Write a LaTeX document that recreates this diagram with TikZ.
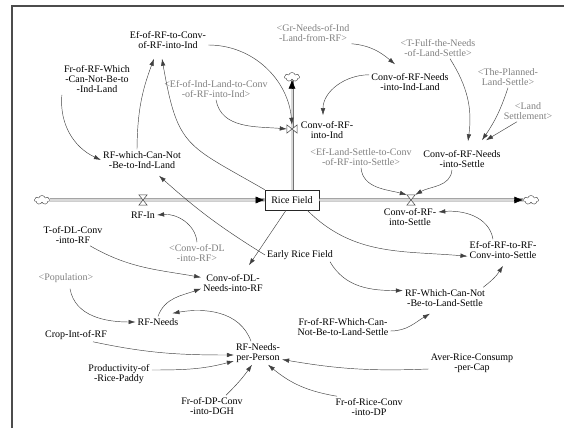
\documentclass[tikz,border=0pt]{standalone}
\usepackage{fontspec}
\setmainfont{Liberation Serif}
\usetikzlibrary{arrows.meta,shapes.symbols}
\begin{document}
\begin{tikzpicture}[x=1pt, y=1pt,
	var/.style={align=center, inner sep=2pt, font=\fontsize{10}{10}\selectfont},
	shadowvar/.style={var, text=black!50},
	link/.style={draw=black!75, line width=.45pt, -{Latex[length=7pt,width=4.5pt]}},
	pipe/.style={draw=black!55, double=black!15, double distance=1.6pt, line width=.7pt},
	pipetip/.style={line width=.5pt, -{Latex[length=9pt,width=7pt]}},
	stock/.style={var, draw=black!85, fill=white, line width=.6pt, minimum width=54pt, minimum height=20pt},
	cloudy/.style={cloud, cloud puffs=7, cloud ignores aspect, draw=black!75, fill=white, minimum width=15pt, minimum height=9pt, inner sep=0pt},
	valveh/.style={minimum width=8pt, minimum height=10pt, inner sep=0pt,
		append after command={\pgfextra{\filldraw[black!75, fill=white, line width=.5pt] (\tikzlastnode.north west) -- (\tikzlastnode.north east) -- (\tikzlastnode.south west) -- (\tikzlastnode.south east) -- cycle;}}},
	valvev/.style={minimum width=10pt, minimum height=8pt, inner sep=0pt,
		append after command={\pgfextra{\filldraw[black!75, fill=white, line width=.5pt] (\tikzlastnode.north west) -- (\tikzlastnode.south west) -- (\tikzlastnode.north east) -- (\tikzlastnode.south east) -- cycle;}}}]
	\useasboundingbox (0,0) rectangle (564,428);
	\draw [black!70, line width=1.6pt] (12,0) -- (12,422) -- (564,422);
	\path (42,228) node(cloudleft)[cloudy]{}
	(531,228) node(cloudright)[cloudy]{}
	(292,351) node(cloudtop)[cloudy]{}
	(292,228) node(rice)[stock]{Rice Field};
	\draw [pipe] (cloudleft) -- (rice);
	\draw [pipe] (rice) -- (cloudright);
	\draw [pipe] (rice) -- (cloudtop);
	\draw [pipetip] ([xshift=-9pt]rice.west) -- (rice.west);
	\draw [pipetip] ([xshift=-9pt]cloudright.west) -- (cloudright.west);
	\draw [pipetip] ([yshift=-9pt]cloudtop.south) -- (cloudtop.south);
	\path (143,228) node(valverfin)[valveh]{}
	(411,228) node(valvesettle)[valveh]{}
	(292,299) node(valveind)[valvev]{};
	\path (168,388) node(efind)[var]{Ef-of-RF-to-Conv-\\of-RF-into-Ind}
	(97,349) node(frind)[var]{Fr-of-RF-Which\\-Can-Not-Be-to\\-Ind-Land}
	(216,339) node(efindland)[shadowvar]{<Ef-of-Ind-Land-to-Conv\\-of-RF-into-Ind>}
	(313,395) node(grneeds)[shadowvar]{<Gr-Needs-of-Ind\\-Land-from-RF>}
	(438,380) node(tfulf)[shadowvar]{<T-Fulf-the-Needs\\-of-Land-Settle>}
	(410,346) node(convneedsind)[var]{Conv-of-RF-Needs\\-into-Ind-Land}
	(508,351) node(planned)[shadowvar]{<The-Planned-\\Land-Settle>}
	(528,317) node(landsettle)[shadowvar]{<Land\\Settlement>}
	(327,298) node(convind)[var]{Conv-of-RF-\\into-Ind}
	(142,268) node(rfnotind)[var]{RF-which-Can-Not\\-Be-to-Ind-Land}
	(143,213) node(rfin)[var]{RF-In}
	(410,211) node(convsettle)[var]{Conv-of-RF-\\into-Settle}
	(361,271) node(efsettleconv)[shadowvar]{<Ef-Land-Settle-to-Conv\\-of-RF-into-Settle>}
	(462,269) node(convneedssettle)[var]{Conv-of-RF-Needs\\-into-Settle}
	(73,193) node(tdl)[var]{T-of-DL-Conv\\-into-RF}
	(197,175) node(convdl)[shadowvar]{<Conv-of-DL\\-into-RF>}
	(300,173) node(early)[var]{Early Rice Field}
	(503,178) node(efsettle)[var]{Ef-of-RF-to-RF-\\Conv-into-Settle}
	(66,150) node(population)[shadowvar]{<Population>}
	(233,145) node(convdlneeds)[var]{Conv-of-DL-\\Needs-into-RF}
	(445,130) node(rfnotsettle)[var]{RF-Which-Can-Not\\-Be-to-Land-Settle}
	(158,106) node(rfneeds)[var]{RF-Needs}
	(343,101) node(frsettle)[var]{Fr-of-RF-Which-Can-\\Not-Be-to-Land-Settle}
	(76,93) node(crop)[var]{Crop-Int-of-RF}
	(258,75) node(perperson)[var]{RF-Needs-\\per-Person}
	(472,65) node(aver)[var]{Aver-Rice-Consump\\-per-Cap}
	(119,54) node(prod)[var]{Productivity-of\\-Rice-Paddy}
	(212,22) node(frdp)[var]{Fr-of-DP-Conv\\-into-DGH}
	(369,21) node(frrice)[var]{Fr-of-Rice-Conv\\-into-DP};
	\draw [link] (frind.south west) to[out=265,in=155] (rfnotind.west);
	\draw [link] ([xshift=-5pt]rfnotind.north) to[bend left=10] ([xshift=-14pt,yshift=-8pt]efind.south);
	\draw [link] (rice.north west) to[out=150,in=280,looseness=1.4] ([xshift=-6pt,yshift=-8pt]efind.south);
	\draw [link] ([yshift=-5pt]efind.east) to[out=0,in=95] (valveind.north);
	\draw [link] (efindland.south) to[out=280,in=175] (valveind.west);
	\draw [link] (convneedsind.170) to[out=180,in=90] ([xshift=-4pt,yshift=4pt]convind.north);
	\draw [link] (grneeds.south east) to[out=-5,in=140] ([xshift=-15pt,yshift=7pt]convneedsind.north);
	\draw [link] ([xshift=12pt]tfulf.south) to[bend left=20] ([xshift=6pt,yshift=7pt]convneedssettle.north);
	\draw [link] (planned.south) to[bend left=8] ([xshift=20pt,yshift=8pt]convneedssettle.north);
	\draw [link] ([xshift=-11pt]landsettle.south) -- ([xshift=24pt,yshift=8pt]convneedssettle.north);
	\draw [link] ([xshift=-10pt]convneedssettle.south) to[out=265,in=30] (valvesettle.north east);
	\draw [link] (efsettleconv.south) to[out=275,in=165] (valvesettle.north west);
	\draw [link] ([xshift=-10pt]efsettle.north) to[out=100,in=5] (convsettle.10);
	\draw [link] ([xshift=-12pt]rice.south east) to[out=-45,in=175] (efsettle.190);
	\draw [link] ([xshift=-4pt]rfnotsettle.north east) to[bend right=10] ([yshift=-5pt]efsettle.south);
	\draw [link] ([xshift=30pt]early.south) to[out=-60,in=180] (rfnotsettle.170);
	\draw [link] (early.west) to[bend left=5] ([xshift=17pt,yshift=-5pt]rfnotind.south);
	\draw [link] ([yshift=-4pt]frsettle.east) to[out=0,in=210] ([xshift=-15pt,yshift=-5pt]rfnotsettle.south);
	\draw [link] ([xshift=-6pt]rice.south) -- ([xshift=16pt,yshift=7pt]convdlneeds.north);
	\draw [link] (convdl.north) to[out=95,in=5] (rfin.east);
	\draw [link] ([xshift=17pt]tdl.south) to[out=-30,in=170] (convdlneeds.170);
	\draw [link] (rfneeds.north) to[out=70,in=200] (convdlneeds.190);
	\draw [link] ([xshift=4pt,yshift=-4pt]population.south) to[out=-80,in=180] (rfneeds.west);
	\draw [link] ([xshift=-7pt]perperson.north) to[out=110,in=10] ([xshift=-8pt,yshift=3pt]rfneeds.north east);
	\draw [link] ([xshift=17pt]crop.south) to[out=-12,in=180] ([yshift=-2pt]perperson.west);
	\draw [link] ([yshift=4pt]prod.east) to[out=0,in=195] ([yshift=-8pt]perperson.west);
	\draw [link] ([xshift=14pt]frdp.north) to[bend right=5] ([xshift=-6pt]perperson.south);
	\draw [link] ([xshift=-32pt]frrice.north) to[bend left=15] ([xshift=10pt]perperson.south);
	\draw [link] ([yshift=-6pt]aver.west) to[bend left=6] (perperson.-15);
\end{tikzpicture}
\end{document}
